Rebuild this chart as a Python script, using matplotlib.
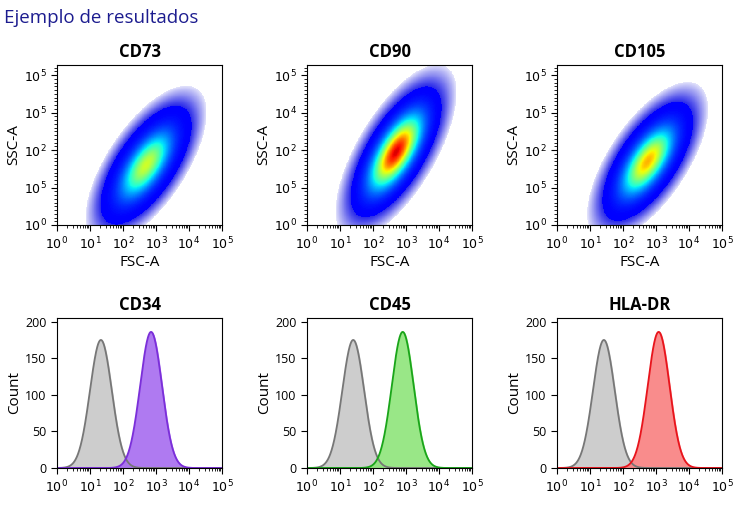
import numpy as np
import matplotlib
matplotlib.use("Agg")
import matplotlib.pyplot as plt
from matplotlib.ticker import FixedLocator, NullFormatter
from matplotlib.colors import LinearSegmentedColormap

plt.rcParams['font.family'] = ['Open Sans', 'DejaVu Sans']

scatter_titles = ["CD73", "CD90", "CD105"]
sc_cx = [2.7, 2.7, 2.75]
sc_cy = [1.6, 1.95, 1.7]
sc_sx = [0.52, 0.52, 0.52]
sc_sy = [0.6, 0.66, 0.6]
sc_rho = [0.66, 0.68, 0.66]
sc_peak = [0.6, 0.92, 0.72]
ssc_ticklabels = [["$10^0$", "$10^5$", "$10^2$", "$10^5$", "$10^5$"],
                  ["$10^0$", "$10^5$", "$10^2$", "$10^4$", "$10^5$"],
                  ["$10^0$", "$10^5$", "$10^2$", "$10^5$", "$10^5$"]]

hist_titles = ["CD34", "CD45", "HLA-DR"]
gray_peak = [1.33, 1.4, 1.42]
gray_height = [175, 175, 175]
pos_peak = [2.85, 2.9, 3.08]
pos_height = [186, 186, 186]
pos_colors = ["#7b2fd9", "#1aa51a", "#e8141c"]
pos_fill = ["#a66cf0", "#8ee57a", "#f98080"]
xtick_labels = ["$10^0$", "$10^1$", "$10^2$", "$10^3$", "$10^4$", "$10^5$"]

halo_cmap = LinearSegmentedColormap.from_list("halo", ["#e4e4fb", "#8f8ff0", "#2a2ae8"])

fig = plt.figure(figsize=(7.39, 5.32), dpi=100)
W, H = 739, 532
fig.text(4/W, 1-18/H, "Ejemplo de resultados", color="#1c1c8f", fontsize=13.5, va="center")

lefts = [57, 307, 557]
minor = [np.log10(m*10**d) for d in range(5) for m in range(2, 10)]

def style_x(ax):
    ax.set_xlim(0, 5)
    ax.set_xticks(range(6))
    ax.set_xticklabels(xtick_labels, fontsize=9)
    ax.xaxis.set_minor_locator(FixedLocator(minor))
    ax.tick_params(which="minor", length=2)
    ax.tick_params(which="major", length=4)

for i in range(3):
    ax = fig.add_axes([lefts[i]/W, 1-225/H, 165/W, 160/H])
    xs = np.linspace(0, 5, 400)
    ys = np.linspace(0, 4.3, 350)
    X, Y = np.meshgrid(xs, ys)
    dx = (X - sc_cx[i]) / sc_sx[i]
    dy = (Y - sc_cy[i]) / sc_sy[i]
    r = sc_rho[i]
    q = (dx**2 - 2*r*dx*dy + dy**2) / (1 - r**2)
    D = np.exp(-0.5*q)
    halo = np.ma.masked_where((D < 0.002) | (D >= 0.03), np.log(D))
    ax.pcolormesh(xs, ys, halo, cmap=halo_cmap, vmin=np.log(0.002), vmax=np.log(0.03), shading="auto")
    core = np.ma.masked_where(D < 0.03, D)
    lvl = 0.12 + ((core - 0.03)/0.97)**1.3 * (sc_peak[i]-0.12)
    ax.pcolormesh(xs, ys, lvl, cmap="jet", vmin=0, vmax=1, shading="auto")
    style_x(ax)
    ax.set_ylim(0, 4.27)
    ax.set_yticks(range(5))
    ax.set_yticklabels(ssc_ticklabels[i], fontsize=9)
    ax.yaxis.set_minor_locator(FixedLocator([0.1*k for k in range(43) if k % 10]))
    ax.yaxis.set_minor_formatter(NullFormatter())
    ax.set_xlabel("FSC-A", fontsize=11, labelpad=2)
    ax.set_ylabel("SSC-A", fontsize=11, labelpad=2)
    ax.set_title(scatter_titles[i], fontsize=12, fontweight="bold", pad=6)

for i in range(3):
    ax = fig.add_axes([lefts[i]/W, 1-468/H, 165/W, 150/H])
    x = np.linspace(0, 5, 600)
    g = gray_height[i]*np.exp(-0.5*((x-gray_peak[i])/0.33)**2)
    p = pos_height[i]*np.exp(-0.5*((x-pos_peak[i])/0.33)**2)
    ax.fill_between(x, g, color="#c8c8c8", alpha=0.9)
    ax.plot(x, g, color="#777777", lw=1.3)
    ax.fill_between(x, p, color=pos_fill[i], alpha=0.9)
    ax.plot(x, p, color=pos_colors[i], lw=1.3)
    style_x(ax)
    ax.set_ylim(0, 205)
    ax.set_yticks([0, 50, 100, 150, 200])
    ax.tick_params(axis="y", labelsize=9)
    ax.set_ylabel("Count", fontsize=11, labelpad=2)
    ax.set_title(hist_titles[i], fontsize=12, fontweight="bold", pad=6)

fig.savefig("out.png", dpi=100)
